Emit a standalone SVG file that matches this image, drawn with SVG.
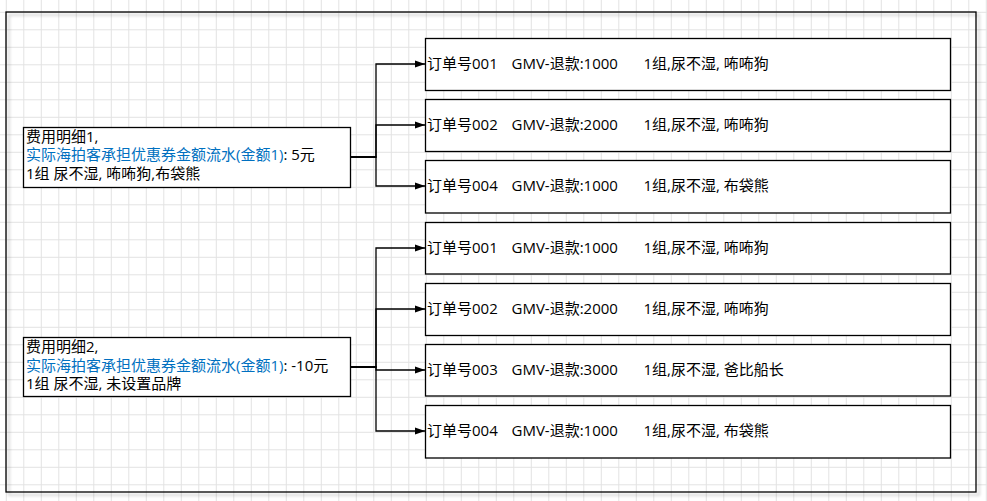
<svg xmlns="http://www.w3.org/2000/svg" width="987" height="501" viewBox="0 0 987 501">
<style>
.node{fill:#ffffff;stroke:#000000;stroke-width:1.3}
.t{font-family:"Open Sans","Noto Sans CJK SC",sans-serif;font-size:15px;fill:#000000}
.blue{fill:#0070C0}
.edge{fill:none;stroke:#000000;stroke-width:1.3}
</style>
<defs>
<pattern id="grid" x="5.8" y="11.8" width="17.5" height="17.5" patternUnits="userSpaceOnUse">
<path d="M0 0.5H17.5M0.5 0V17.5" stroke="#e2e2e2" stroke-width="1" fill="none"/>
</pattern>
<filter id="shadow" x="-5%" y="-5%" width="110%" height="110%">
<feGaussianBlur in="SourceAlpha" stdDeviation="1.8"/>
<feOffset dx="3" dy="3" result="b"/>
<feComponentTransfer><feFuncA type="linear" slope="0.25"/></feComponentTransfer>
<feMerge><feMergeNode/><feMergeNode in="SourceGraphic"/></feMerge>
</filter>
<marker id="arrow" markerWidth="10" markerHeight="8" refX="10" refY="4" orient="auto" markerUnits="userSpaceOnUse">
<path d="M0 0.5L10 4L0 7.5z" fill="#000000"/>
</marker>
</defs>
<rect x="0" y="0" width="987" height="501" fill="#ffffff"/>
<rect x="0" y="0" width="987" height="501" fill="url(#grid)"/>
<rect id="frame" x="6" y="12" width="970" height="480" fill="none" stroke="#000000" stroke-width="1.3" filter="url(#shadow)"/>

<g id="connectors">
<path class="edge" d="M350 157H376V64H425" marker-end="url(#arrow)"/>
<path class="edge" d="M350 157H376V125H425" marker-end="url(#arrow)"/>
<path class="edge" d="M350 157H376V186H425" marker-end="url(#arrow)"/>
<path class="edge" d="M350 367H376V248H425" marker-end="url(#arrow)"/>
<path class="edge" d="M350 367H376V309H425" marker-end="url(#arrow)"/>
<path class="edge" d="M350 367H376V370H425" marker-end="url(#arrow)"/>
<path class="edge" d="M350 367H376V431H425" marker-end="url(#arrow)"/>
</g>

<g id="fee1">
<rect class="node" x="23.5" y="127.5" width="327" height="60"/>
<text class="t" x="26" y="141.5">费用明细1,</text>
<text class="t" x="26" y="160"><tspan class="blue">实际海拍客承担优惠券金额流水(金额1)</tspan>: 5元</text>
<text class="t" x="26" y="178.5">1组 尿不湿, 咘咘狗,布袋熊</text>
</g>

<g id="fee2">
<rect class="node" x="23.5" y="337.5" width="327" height="59"/>
<text class="t" x="26" y="352">费用明细2,</text>
<text class="t" x="26" y="370.5"><tspan class="blue">实际海拍客承担优惠券金额流水(金额1)</tspan>: -10元</text>
<text class="t" x="26" y="389">1组 尿不湿, 未设置品牌</text>
</g>

<g id="order1a">
<rect class="node" x="425.5" y="38.5" width="525" height="52"/>
<text class="t" y="69"><tspan x="427">订单号001</tspan><tspan x="511.5">GMV-退款:1000</tspan><tspan x="643.5">1组,尿不湿, 咘咘狗</tspan></text>
</g>
<g id="order2a">
<rect class="node" x="425.5" y="99.5" width="525" height="52"/>
<text class="t" y="130"><tspan x="427">订单号002</tspan><tspan x="511.5">GMV-退款:2000</tspan><tspan x="643.5">1组,尿不湿, 咘咘狗</tspan></text>
</g>
<g id="order4a">
<rect class="node" x="425.5" y="160.5" width="525" height="52.5"/>
<text class="t" y="191.2"><tspan x="427">订单号004</tspan><tspan x="511.5">GMV-退款:1000</tspan><tspan x="643.5">1组,尿不湿, 布袋熊</tspan></text>
</g>
<g id="order1b">
<rect class="node" x="425.5" y="222.5" width="525" height="51.5"/>
<text class="t" y="252.7"><tspan x="427">订单号001</tspan><tspan x="511.5">GMV-退款:1000</tspan><tspan x="643.5">1组,尿不湿, 咘咘狗</tspan></text>
</g>
<g id="order2b">
<rect class="node" x="425.5" y="283.5" width="525" height="52"/>
<text class="t" y="314"><tspan x="427">订单号002</tspan><tspan x="511.5">GMV-退款:2000</tspan><tspan x="643.5">1组,尿不湿, 咘咘狗</tspan></text>
</g>
<g id="order3b">
<rect class="node" x="425.5" y="344.5" width="525" height="51.5"/>
<text class="t" y="375"><tspan x="427">订单号003</tspan><tspan x="511.5">GMV-退款:3000</tspan><tspan x="643.5">1组,尿不湿, 爸比船长</tspan></text>
</g>
<g id="order4b">
<rect class="node" x="425.5" y="405.5" width="525" height="52.5"/>
<text class="t" y="436.2"><tspan x="427">订单号004</tspan><tspan x="511.5">GMV-退款:1000</tspan><tspan x="643.5">1组,尿不湿, 布袋熊</tspan></text>
</g>
</svg>
